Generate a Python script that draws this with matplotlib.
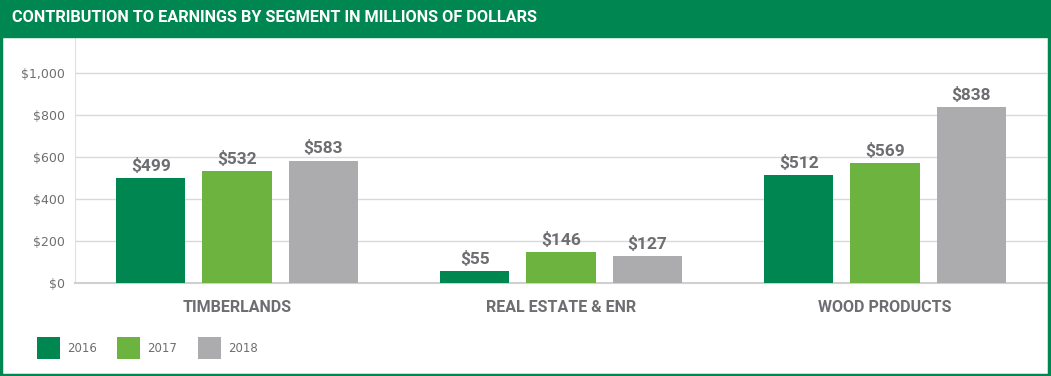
import numpy as np
import matplotlib.pyplot as plt
from matplotlib.patches import Rectangle

segments = ["TIMBERLANDS", "REAL ESTATE & ENR", "WOOD PRODUCTS"]
years = ["2016", "2017", "2018"]
v2016 = [499, 55, 512]
v2017 = [532, 146, 569]
v2018 = [583, 127, 838]
yticks = [0, 200, 400, 600, 800, 1000]

green = "#008651"
colors = ["#008651", "#6db33f", "#acacaf"]
gray = "#6d6e71"
cond = ["Liberation Sans Narrow", "Roboto", "DejaVu Sans"]

fig = plt.figure(figsize=(10.51, 3.76), dpi=100)
ax = fig.add_axes([75 / 1051, 93 / 376, (1047 - 75) / 1051, (283 - 37) / 376])

x = np.arange(len(segments))
w = 0.213
off = 0.266
for i, (vals, yr) in enumerate(zip([v2016, v2017, v2018], years)):
    bars = ax.bar(x + (i - 1) * off, vals, w, color=colors[i], label=yr, zorder=3)
    for b, v in zip(bars, vals):
        ax.annotate(f"${v}", (b.get_x() + b.get_width() / 2, v), xytext=(0, 3),
                    textcoords="offset points", ha="center", va="bottom",
                    fontsize=12.5, fontweight="bold", color=gray, family=cond)

ax.set_xlim(-0.5, 2.5)
ax.set_ylim(0, 1171)
ax.set_yticks(yticks)
ax.set_yticklabels([f"${t:,}" for t in yticks], color=gray, fontsize=9)
ax.set_xticks(x)
ax.set_xticklabels(segments, fontsize=11.5, fontweight="bold", color=gray, family=cond)
ax.tick_params(length=0, axis="y", pad=7)
ax.tick_params(length=0, axis="x", pad=12)
ax.grid(axis="y", color="#d9d9d9", linewidth=1, zorder=0)
for s in ["top", "right"]:
    ax.spines[s].set_visible(False)
ax.spines["left"].set_color("#e0e0e0")
ax.spines["bottom"].set_color("#d0d0d0")
ax.spines["bottom"].set_linewidth(1.5)

# header bar and border
fig.patches.append(Rectangle((0, 1 - 37 / 376), 1, 37 / 376, transform=fig.transFigure,
                             color=green, zorder=0))
fig.patches.append(Rectangle((0.001, 0.003), 0.997, 0.99, transform=fig.transFigure,
                             fill=False, edgecolor=green, linewidth=2.5))
fig.text(12 / 1051, 1 - 18 / 376, "CONTRIBUTION TO EARNINGS BY SEGMENT IN MILLIONS OF DOLLARS",
         color="white", fontsize=11.7, fontweight="bold", va="center", family=cond)

fig.legend(loc="lower left", bbox_to_anchor=(26 / 1051, 6 / 376), ncol=3, frameon=False,
           fontsize=8.5, handlelength=1.95, handleheight=2.5, handletextpad=0.6,
           columnspacing=1.75, labelcolor=gray)

fig.savefig("out.png", dpi=100)
